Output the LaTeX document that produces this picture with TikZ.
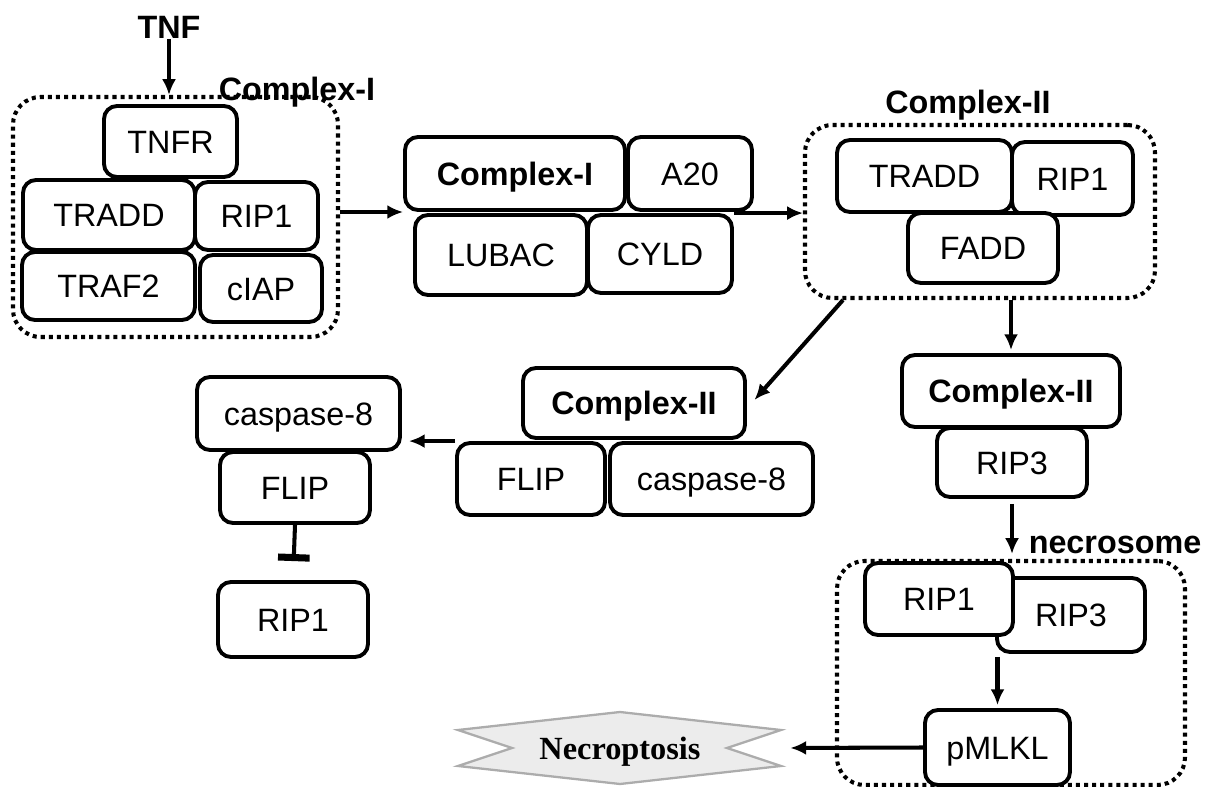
\documentclass[tikz,border=0pt]{standalone}
\usepackage{fontspec}
\setmainfont{Liberation Serif}
\setsansfont{Liberation Sans}
\usetikzlibrary{arrows.meta}

\tikzset{
  prot/.style={draw, fill=white, line width=2.2pt, rounded corners=0.26cm, inner sep=0pt,
    font=\sffamily\fontsize{18.4}{22}\selectfont, text height=13.2pt, text depth=0pt},
  cplx/.style={prot, font=\sffamily\bfseries\fontsize{18.4}{22}\selectfont},
  wh/.style 2 args={minimum width=#1*0.02cm, minimum height=#2*0.02cm},
  lbl/.style={inner sep=0pt, font=\sffamily\bfseries\fontsize{18.4}{22}\selectfont,
    text height=13.2pt, text depth=0pt},
  dotbox/.style={draw, line width=2.3pt, dash pattern=on 2.3pt off 2.3pt, rounded corners=0.55cm},
  arr/.style={line width=2.3pt, -{Latex[length=9pt,width=8pt]}},
  inh/.style={line width=2.3pt, -{Bar[width=18pt,line width=4pt]}}
}

\begin{document}
\begin{tikzpicture}[x=0.02cm,y=-0.02cm]
\useasboundingbox (0,0) rectangle (1210,787);

% dotted complexes
\node[dotbox, wh={325}{240}] (cI) at (175.5,217) {};
\node[dotbox, wh={350}{173}] (cII) at (980,211.5) {};
\node[dotbox, wh={348}{224}] (cIII) at (1011,673) {};

\node[lbl] (tnf) at (169,27) {TNF};
\node[lbl] (cIlbl) at (297,89) {Complex-I};
\node[lbl] (cIIlbl) at (968,102) {Complex-II};
\node[lbl] (nclbl) at (1115,542) {necrosome};

% Complex-I
\node[prot, wh={133}{71}] (tnfr) at (170.5,141.5) {TNFR};
\node[prot, wh={172}{70}] (tradda) at (109,215) {TRADD};
\node[prot, wh={123}{68}] (rip1a) at (256.5,216) {RIP1};
\node[prot, wh={173}{68}] (traf2) at (108.5,286) {TRAF2};
\node[prot, wh={122}{67}] (ciap) at (261,288.5) {cIAP};

% Complex-I with A20, LUBAC, CYLD
\node[cplx, wh={220}{73}] (cx1) at (515,173.5) {Complex-I};
\node[prot, wh={124}{73}] (a20) at (690,173.5) {A20};
\node[prot, wh={172}{80}] (lubac) at (501,255) {LUBAC};
\node[prot, wh={144}{78}] (cyld) at (660,254) {CYLD};

% Complex-II
\node[prot, wh={175}{72}] (traddb) at (924.5,176) {TRADD};
\node[prot, wh={121}{73}] (rip1b) at (1072.5,178.5) {RIP1};
\node[prot, wh={150}{70}] (fadd) at (983,248) {FADD};

% apoptosis branch
\node[cplx, wh={222}{70}] (cx2b) at (634,403) {Complex-II};
\node[prot, wh={148}{72}] (flipa) at (531,479) {FLIP};
\node[prot, wh={203}{72}] (caspa) at (711.5,479) {caspase-8};
\node[prot, wh={203}{73}] (caspb) at (298.5,413.5) {caspase-8};
\node[prot, wh={150}{71}] (flipb) at (295,487.5) {FLIP};
\node[prot, wh={150}{75}] (rip1c) at (293,619.5) {RIP1};

% necroptosis branch
\node[cplx, wh={218}{72}] (cx2c) at (1011,391) {Complex-II};
\node[prot, wh={150}{69}] (rip3a) at (1012,462.5) {RIP3};
\node[prot, wh={148}{74}] (rip3b) at (1071,615) {RIP3};
\node[prot, wh={148}{72}] (rip1d) at (939,599) {RIP1};
\node[prot, wh={145}{75}] (pmlkl) at (997.5,747.5) {pMLKL};

\filldraw[fill=gray!15, draw=gray!65, line width=1.3pt]
  (458,730) -- (620,712) -- (781,730) -- (727,748) -- (781,766) -- (620,784) -- (458,766) -- (512,748) -- cycle;
\node[inner sep=0pt, wh={322}{71}, font=\bfseries\fontsize{18.4}{22}\selectfont,
  text height=13.2pt, text depth=0pt] (necro) at (620,748) {Necroptosis};

% arrows
\draw[arr] (tnf.south) ++(0,-0.1) -- (tnf.south |- cI.north);
\draw[arr] ([yshift=0.1cm]cI.east) -- ([yshift=0.1cm]cI.east -| cx1.west);
\draw[arr] (cyld.north east) -- (cyld.north east -| cII.west);
\draw[arr] ([xshift=0.8cm]cII.south west) -- ([xshift=0.15cm,yshift=0.06cm]cx2b.east);
\draw[arr] (cII.south -| cx2c.north) -- ([yshift=0.06cm]cx2c.north);
\draw[arr, shorten >=0.14cm] (flipa.north west) -- (flipa.north west -| caspb.east);
\draw[inh, shorten >=0.38cm] (flipb.south) -- (rip1c.north);
\draw[arr, shorten <=0.1cm, shorten >=0.1cm] (rip3a.south) -- (rip3a.south |- cIII.north);
\draw[arr, shorten <=0.06cm, shorten >=0.06cm] (pmlkl.north |- rip3b.south) -- (pmlkl.north);
\draw[arr, shorten >=0.18cm] (pmlkl.west) -- (necro.east);
\end{tikzpicture}
\end{document}
